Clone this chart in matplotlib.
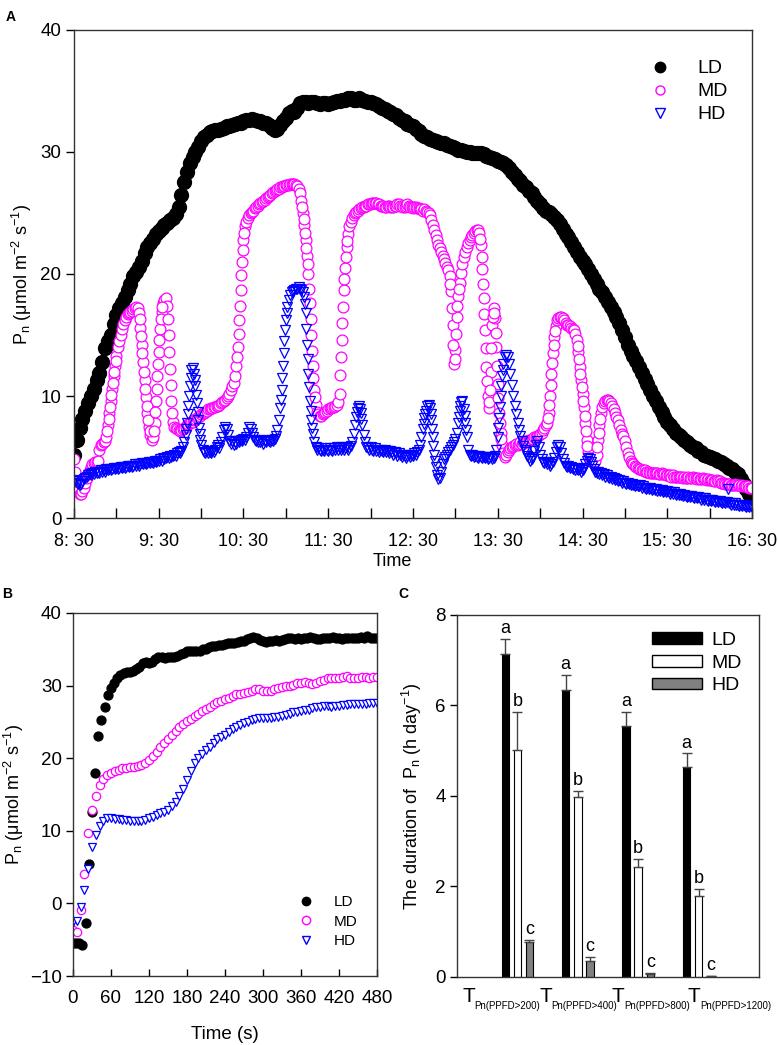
import numpy as np
import matplotlib
matplotlib.use('Agg')
import matplotlib.pyplot as plt
from matplotlib.lines import Line2D
from matplotlib.patches import Patch

plt.rcParams['font.family'] = ['Liberation Sans', 'DejaVu Sans']
plt.rcParams['axes.linewidth'] = 1.0
plt.rcParams['axes.edgecolor'] = '#333333'

# ---------------- panel A : diurnal Pn (minutes after 8:30) ----------------
ld_step_a = 2
md_step_a = 1
hd_step_a = 1

pn_ld_a = [
    5.2, 6.4, 7.4, 8.1, 8.8, 9.4, 10.0, 10.6, 11.3, 11.9,
    12.8, 13.9, 14.5, 15.0, 15.9, 16.6, 17.2, 17.6, 18.1, 18.7,
    19.2, 19.8, 20.2, 20.6, 21.1, 21.7, 22.2, 22.5, 22.9, 23.3,
    23.5, 23.8, 24.0, 24.2, 24.4, 24.6, 24.9, 25.5, 26.5, 27.5,
    28.4, 29.1, 29.6, 30.0, 30.4, 30.9, 31.2, 31.4, 31.6, 31.7,
    31.8, 31.8, 31.9, 32.0, 32.1, 32.1, 32.2, 32.3, 32.4, 32.4,
    32.5, 32.6, 32.6, 32.7, 32.6, 32.5, 32.5, 32.4, 32.4, 32.2,
    32.0, 31.8, 31.9, 32.2, 32.5, 32.8, 33.2, 33.4, 33.3, 33.6,
    34.0, 34.1, 34.1, 34.0, 34.1, 34.1, 34.0, 33.9, 34.0, 34.0,
    33.9, 34.0, 34.1, 34.2, 34.2, 34.3, 34.3, 34.4, 34.4, 34.3,
    34.3, 34.4, 34.3, 34.2, 34.1, 34.1, 34.0, 33.9, 33.8, 33.6,
    33.5, 33.4, 33.3, 33.1, 33.0, 32.8, 32.6, 32.5, 32.3, 32.2,
    32.1, 31.9, 31.7, 31.5, 31.3, 31.2, 31.1, 31.0, 30.9, 30.8,
    30.7, 30.7, 30.6, 30.5, 30.4, 30.3, 30.2, 30.2, 30.1, 30.0,
    30.0, 29.9, 29.9, 29.9, 29.9, 29.8, 29.7, 29.6, 29.5, 29.4,
    29.3, 29.2, 29.1, 28.9, 28.7, 28.4, 28.1, 27.8, 27.6, 27.3,
    27.1, 26.8, 26.6, 26.3, 26.0, 25.7, 25.4, 25.2, 25.1, 24.9,
    24.7, 24.4, 24.1, 23.7, 23.3, 23.0, 22.6, 22.2, 21.8, 21.4,
    21.1, 20.8, 20.4, 20.0, 19.6, 19.2, 18.8, 18.5, 18.1, 17.7,
    17.3, 16.9, 16.5, 16.0, 15.4, 14.8, 14.2, 13.7, 13.3, 12.9,
    12.4, 11.9, 11.4, 11.0, 10.5, 10.0, 9.6, 9.1, 8.7, 8.3,
    7.9, 7.6, 7.3, 7.0, 6.8, 6.6, 6.4, 6.2, 6.0, 5.8,
    5.7, 5.5, 5.4, 5.2, 5.1, 5.0, 4.9, 4.8, 4.7, 4.6,
    4.4, 4.3, 4.1, 4.0, 3.8, 3.6, 3.2, 2.8, 2.4, 2.0,
    1.7,
]

pn_md_a = [
    4.8, 3.8, 2.8, 2.2, 2.0, 2.0, 2.2, 2.5, 2.9, 3.3,
    3.6, 3.9, 4.2, 4.4, 4.5, 4.6, 4.6, 4.7, 5.6, 6.0,
    6.1, 6.2, 6.3, 6.6, 7.6, 8.6, 9.6, 10.6, 11.6, 12.5,
    13.3, 14.0, 14.5, 15.0, 15.5, 15.9, 16.2, 16.5, 16.7, 16.8,
    16.9, 17.0, 17.1, 17.2, 17.3, 17.2, 16.8, 15.6, 14.2, 12.8,
    11.3, 9.9, 8.6, 7.5, 6.8, 6.4, 6.6, 7.8, 9.6, 11.6,
    13.6, 15.5, 16.9, 17.6, 17.9, 18.0, 17.4, 15.0, 12.2, 9.6,
    7.9, 7.5, 7.4, 7.3, 7.2, 7.1, 7.2, 7.3, 7.4, 7.5,
    7.6, 7.7, 7.8, 7.9, 7.9, 8.0, 8.1, 8.2, 8.3, 8.4,
    8.5, 8.6, 8.6, 8.7, 8.8, 8.9, 8.9, 9.0, 9.0, 9.1,
    9.1, 9.2, 9.2, 9.3, 9.4, 9.5, 9.6, 9.7, 9.8, 10.0,
    10.2, 10.5, 10.8, 11.1, 11.6, 12.5, 14.0, 16.2, 18.7, 21.0,
    22.8, 23.9, 24.3, 24.6, 24.8, 25.0, 25.1, 25.2, 25.4, 25.5,
    25.6, 25.7, 25.8, 25.9, 26.0, 26.1, 26.2, 26.3, 26.4, 26.5,
    26.6, 26.7, 26.8, 26.9, 27.0, 27.0, 27.1, 27.1, 27.2, 27.2,
    27.3, 27.3, 27.3, 27.4, 27.4, 27.4, 27.4, 27.3, 27.2, 27.0,
    26.6, 26.0, 25.0, 24.0, 22.8, 21.5, 20.0, 17.6, 15.0, 12.5,
    10.5, 9.3, 8.7, 8.5, 8.4, 8.4, 8.5, 8.6, 8.7, 8.8,
    8.9, 9.0, 9.0, 9.1, 9.1, 9.2, 9.3, 9.5, 10.2, 13.2,
    16.0, 18.7, 20.5, 22.2, 23.3, 23.9, 24.3, 24.6, 24.8, 25.0,
    25.1, 25.2, 25.3, 25.4, 25.5, 25.5, 25.6, 25.6, 25.7, 25.7,
    25.7, 25.8, 25.8, 25.8, 25.8, 25.7, 25.7, 25.6, 25.6, 25.6,
    25.5, 25.5, 25.6, 25.6, 25.5, 25.5, 25.5, 25.6, 25.6, 25.7,
    25.7, 25.6, 25.6, 25.5, 25.5, 25.6, 25.7, 25.6, 25.5, 25.5,
    25.4, 25.5, 25.5, 25.4, 25.4, 25.3, 25.3, 25.2, 25.3, 25.2,
    25.1, 25.0, 24.8, 24.4, 24.0, 23.6, 23.2, 22.8, 22.4, 22.1,
    21.8, 21.5, 21.2, 20.9, 20.6, 20.3, 19.8, 18.6, 15.8, 12.6,
    13.8, 16.5, 18.2, 19.3, 20.1, 20.8, 21.4, 21.8, 22.2, 22.5,
    22.8, 23.0, 23.2, 23.4, 23.5, 23.6, 23.6, 23.4, 22.4, 20.4,
    18.0, 15.4, 12.4, 10.0, 9.0, 12.0, 15.8, 17.2, 16.4, 14.0,
    11.0, 8.6, 7.0, 6.0, 5.3, 5.0, 5.2, 5.4, 5.6, 5.7,
    5.8, 5.9, 6.0, 6.1, 6.0, 6.1, 6.2, 6.1, 6.2, 6.3,
    6.2, 6.3, 6.4, 6.4, 6.5, 6.5, 6.6, 6.6, 6.7, 6.8,
    6.9, 7.0, 7.2, 7.4, 7.6, 7.8, 8.6, 10.0, 11.8, 13.5,
    14.8, 15.7, 16.2, 16.4, 16.5, 16.5, 16.4, 16.2, 16.0, 15.8,
    15.8, 15.7, 15.6, 15.5, 15.4, 15.1, 14.6, 13.6, 12.4, 11.3,
    10.2, 9.1, 7.8, 6.4, 5.4, 4.9, 4.7, 4.6, 4.6, 4.7,
    5.2, 6.4, 7.6, 8.6, 9.1, 9.4, 9.6, 9.7, 9.7, 9.6,
    9.4, 9.2, 8.9, 8.6, 8.3, 8.0, 7.6, 7.2, 6.9, 6.7,
    6.3, 5.8, 5.3, 5.0, 4.7, 4.5, 4.4, 4.3, 4.2, 4.1,
    4.0, 4.0, 3.9, 3.9, 3.9, 3.8, 3.8, 3.8, 3.7, 3.7,
    3.7, 3.7, 3.7, 3.7, 3.6, 3.6, 3.7, 3.6, 3.6, 3.5,
    3.5, 3.5, 3.5, 3.4, 3.5, 3.4, 3.4, 3.4, 3.4, 3.4,
    3.4, 3.3, 3.4, 3.3, 3.3, 3.4, 3.3, 3.3, 3.4, 3.3,
    3.3, 3.2, 3.3, 3.2, 3.2, 3.3, 3.2, 3.2, 3.1, 3.2,
    3.1, 3.1, 3.1, 3.0, 3.0, 3.1, 3.0, 3.0, 2.9, 2.9,
    2.9, 2.8, 2.8, 2.8, 2.8, 2.7, 2.7, 2.7, 2.8, 2.7,
    2.7, 2.7, 2.6, 2.7, 2.6, 2.6, 2.6, 2.6, 2.5, 2.5,
    2.5,
]

# extra MD readings inside the steep columns (minute, value)
md_extra_t = [23.5, 24.5, 25.5, 26.5, 27.5, 28.5, 29.5,
              46.5, 47.5, 48.5, 49.5, 50.5, 51.5, 52.5, 53.5,
              56.5, 57.5, 58.5, 59.5, 60.5, 61.5, 62.5,
              66.5, 67.5, 68.5, 69.5,
              115.5, 116.5, 117.5, 118.5, 119.5, 120.5,
              161.5, 162.5, 163.5, 164.5, 165.5, 166.5, 167.5, 168.5, 169.5, 170.5,
              188.5, 189.5, 190.5, 191.5, 192.5, 193.5,
              266.5, 267.5, 268.5, 269.5, 270.5, 271.5, 272.5,
              287.5, 288.5, 289.5, 290.5, 291.5, 292.5, 293.5, 294.5, 295.5,
              296.5, 297.5, 298.5, 299.5, 300.5, 301.5, 302.5,
              335.5, 336.5, 337.5, 338.5, 339.5, 340.5,
              356.5, 357.5, 358.5, 359.5, 360.5, 361.5, 362.5, 363.5,
              370.5, 371.5, 372.5]
md_extra_v = [7.1, 8.1, 9.1, 10.1, 11.1, 12.0, 12.9,
              16.3, 14.9, 13.5, 12.0, 10.6, 9.2, 8.0, 7.1,
              7.1, 8.7, 10.6, 12.6, 14.6, 16.3, 17.3,
              16.3, 13.6, 10.9, 8.6,
              13.2, 15.1, 17.4, 19.9, 22.0, 23.4,
              25.5, 24.5, 23.4, 22.1, 20.8, 18.8, 16.3, 13.7, 11.5, 9.9,
              11.7, 14.6, 17.3, 19.6, 21.4, 22.7,
              19.2, 17.2, 14.2, 13.0, 15.1, 17.4, 18.8,
              22.9, 21.4, 19.2, 16.7, 13.9, 11.2, 9.5, 10.5, 13.9,
              16.5, 16.8, 15.2, 12.5, 9.8, 7.8, 6.5,
              8.2, 9.3, 10.9, 12.7, 14.2, 15.3,
              14.1, 13.0, 11.8, 10.7, 9.6, 8.4, 7.1, 5.9,
              5.8, 7.0, 8.1]

pn_hd_a = [
    3.1, 3.0, 2.9, 2.8, 2.7, 2.8, 3.0, 3.2, 3.3, 3.4,
    3.5, 3.6, 3.5, 3.7, 3.6, 3.8, 3.7, 3.8, 3.7, 3.9,
    3.8, 3.9, 3.8, 4.0, 3.9, 4.0, 3.9, 4.0, 4.1, 4.0,
    4.1, 4.0, 4.1, 4.2, 4.1, 4.2, 4.1, 4.2, 4.3, 4.2,
    4.3, 4.2, 4.3, 4.4, 4.3, 4.4, 4.3, 4.4, 4.5, 4.4,
    4.5, 4.4, 4.5, 4.6, 4.5, 4.6, 4.5, 4.7, 4.6, 4.7,
    4.7, 4.8, 4.7, 4.9, 4.8, 4.9, 5.0, 4.9, 5.1, 5.0,
    5.1, 5.2, 5.1, 5.3, 5.4, 5.3, 5.5, 5.8, 6.2, 6.8,
    7.8, 9.2, 10.8, 12.1, 12.3, 11.8, 10.8, 9.4, 8.0, 6.9,
    6.0, 5.6, 5.4, 5.3, 5.5, 5.3, 5.4, 5.3, 5.5, 5.4,
    5.6, 5.8, 6.0, 5.7, 6.2, 6.6, 7.2, 7.5, 7.3, 6.8,
    6.3, 6.1, 6.3, 6.0, 6.2, 6.1, 6.3, 6.2, 6.4, 6.3,
    6.5, 6.4, 6.6, 7.0, 7.5, 7.3, 7.0, 6.6, 6.4, 6.3,
    6.2, 6.4, 6.2, 6.3, 6.1, 6.3, 6.2, 6.4, 6.3, 6.2,
    6.4, 6.3, 6.5, 6.7, 7.2, 8.0, 9.0, 10.5, 12.5, 14.5,
    16.2, 17.3, 17.9, 18.3, 18.5, 18.6, 18.7, 18.8, 18.8, 18.9,
    18.8, 18.7, 18.5, 18.1, 16.8, 14.2, 11.8, 9.6, 8.0, 6.9,
    6.2, 5.8, 5.6, 5.7, 5.6, 5.5, 5.6, 5.5, 5.7, 5.6,
    5.5, 5.7, 5.6, 5.5, 5.7, 5.6, 5.8, 5.6, 5.7, 5.6,
    5.8, 5.6, 5.7, 5.8, 5.6, 5.7, 5.9, 6.2, 6.9, 7.6,
    8.3, 9.0, 9.2, 8.6, 7.6, 6.8, 6.2, 5.8, 5.7, 5.6,
    5.8, 5.6, 5.5, 5.7, 5.5, 5.6, 5.4, 5.6, 5.5, 5.4,
    5.6, 5.4, 5.5, 5.3, 5.5, 5.4, 5.2, 5.4, 5.3, 5.1,
    5.3, 5.2, 5.0, 5.2, 5.1, 4.9, 5.1, 5.2, 5.0, 5.2,
    5.1, 5.3, 5.2, 5.4, 5.6, 6.0, 6.6, 7.3, 8.2, 8.8,
    9.2, 9.3, 9.0, 8.0, 6.6, 5.2, 4.2, 3.5, 3.2, 3.3,
    3.8, 4.4, 4.8, 5.0, 5.2, 5.4, 5.6, 5.8, 6.0, 6.2,
    6.5, 7.0, 7.8, 8.8, 9.5, 9.6, 8.9, 7.8, 6.6, 5.6,
    5.2, 5.1, 5.2, 5.0, 5.1, 5.0, 4.9, 5.1, 5.0, 4.9,
    5.0, 4.9, 5.0, 4.8, 4.9, 5.0, 4.8, 4.9, 5.1, 5.6,
    6.6, 8.2, 10.0, 11.6, 12.6, 13.2, 13.4, 13.2, 12.6, 11.8,
    10.9, 10.0, 9.2, 8.5, 7.8, 7.2, 6.7, 6.3, 5.9, 5.6,
    5.4, 5.1, 4.9, 4.7, 4.8, 5.0, 5.5, 6.0, 6.3, 5.8,
    5.2, 4.8, 4.6, 4.5, 4.6, 4.4, 4.5, 4.3, 4.4, 4.6,
    4.9, 5.4, 5.8, 6.0, 5.8, 5.3, 4.8, 4.5, 4.3, 4.2,
    4.3, 4.1, 4.2, 4.0, 4.1, 3.9, 4.0, 3.9, 4.0, 3.8,
    3.9, 4.1, 4.4, 4.7, 4.9, 4.8, 4.6, 4.3, 4.0, 3.8,
    3.7, 3.8, 3.6, 3.7, 3.5, 3.6, 3.4, 3.5, 3.4, 3.3,
    3.4, 3.2, 3.3, 3.1, 3.2, 3.0, 3.1, 3.0, 2.9, 3.0,
    2.9, 2.8, 2.9, 2.8, 2.7, 2.8, 2.7, 2.6, 2.7, 2.6,
    2.6, 2.7, 2.5, 2.6, 2.5, 2.4, 2.5, 2.4, 2.5, 2.3,
    2.4, 2.3, 2.4, 2.2, 2.3, 2.2, 2.3, 2.1, 2.2, 2.1,
    2.2, 2.1, 2.0, 2.1, 2.0, 2.1, 1.9, 2.0, 1.9, 2.0,
    1.9, 1.8, 1.9, 1.8, 1.7, 1.8, 1.7, 1.8, 1.7, 1.6,
    1.7, 1.6, 1.7, 1.6, 1.5, 1.6, 1.5, 1.6, 1.5, 1.4,
    1.5, 1.4, 1.5, 1.4, 1.3, 1.4, 1.3, 1.4, 1.3, 1.2,
    1.3, 1.2, 1.3, 2.4, 1.2, 1.1, 1.2, 1.1, 1.2, 1.1,
    1.1, 1.0, 1.1, 1.0, 1.1, 1.0, 0.9, 1.0, 0.9, 1.0,
    0.9,
]

# extra HD readings inside the peaks (minute, value)
hd_extra_t = [79.5, 80.5, 81.5, 82.5, 85.5, 86.5, 87.5, 88.5, 89.5,
              146.5, 147.5, 148.5, 149.5, 150.5, 163.5, 164.5, 165.5, 166.5, 167.5, 168.5,
              200.5, 202.5, 203.5,
              247.5, 248.5, 252.5, 253.5, 254.5, 255.5,
              272.5, 273.5, 276.5, 277.5,
              300.5, 301.5, 302.5, 303.5]
hd_extra_v = [7.3, 8.5, 10.0, 11.5, 11.3, 10.1, 8.7, 7.4, 6.4,
              9.7, 11.5, 13.5, 15.4, 16.8, 17.5, 15.5, 13.0, 10.7, 8.8, 7.4,
              8.7, 8.9, 8.1,
              7.7, 8.5, 8.5, 7.3, 5.9, 4.7,
              8.3, 9.2, 8.4, 7.2,
              7.4, 9.1, 10.8, 12.1]

hour_ticks = [0, 60, 120, 180, 240, 300, 360, 420, 480]
hour_labels = ['8: 30', '9: 30', '10: 30', '11: 30', '12: 30',
               '13: 30', '14: 30', '15: 30', '16: 30']
half_hour_ticks = [30, 90, 150, 210, 270, 330, 390, 450]

# ---------------- panel B : light induction ----------------
ld_step_b = 5
md_step_b = 6
hd_step_b = 6

pn_ld_b = [
    -5.5, -5.4, -5.5, -5.7, -2.7, 5.4, 12.6, 18.0, 23.0, 25.3,
    27.1, 28.7, 29.7, 30.4, 31.0, 31.5, 31.8, 31.9, 31.9, 32.0,
    32.3, 32.6, 33.1, 33.3, 33.1, 33.3, 33.6, 34.0, 33.9, 33.8,
    33.9, 34.0, 34.0, 34.1, 34.3, 34.5, 34.7, 34.8, 34.8, 34.8,
    34.8, 35.0, 35.1, 35.3, 35.4, 35.5, 35.6, 35.6, 35.7, 35.8,
    35.8, 35.9, 36.0, 36.1, 36.2, 36.4, 36.6, 36.7, 36.5, 36.3,
    36.1, 36.0, 36.1, 36.2, 36.3, 36.2, 36.3, 36.4, 36.6, 36.5,
    36.4, 36.5, 36.4, 36.5, 36.6, 36.7, 36.5, 36.4, 36.4, 36.5,
    36.6, 36.5, 36.7, 36.6, 36.5, 36.4, 36.5, 36.6, 36.5, 36.5,
    36.6, 36.7, 36.6, 36.8, 36.6, 36.5, 36.5,
]

pn_md_b = [
    -3.7, -3.9, -0.9, 4.1, 9.7, 12.9, 14.8, 16.3, 17.2, 17.7,
    18.0, 18.2, 18.4, 18.6, 18.7, 18.8, 18.8, 18.9, 19.1, 19.4,
    19.8, 20.3, 20.9, 21.6, 22.1, 22.7, 23.2, 23.8, 24.3, 24.7,
    25.1, 25.4, 25.8, 26.1, 26.5, 26.8, 27.1, 27.4, 27.7, 27.9,
    28.1, 28.3, 28.5, 28.8, 28.9, 29.0, 29.1, 29.3, 29.6, 29.5,
    29.3, 29.2, 29.3, 29.5, 29.7, 29.8, 29.9, 30.0, 30.1, 30.3,
    30.4, 30.5, 30.4, 30.2, 30.4, 30.6, 30.8, 31.0, 31.1, 31.0,
    31.0, 31.2, 31.3, 31.1, 31.0, 31.1, 31.2, 31.2, 31.1, 31.2,
    31.2,
]

pn_hd_b = [
    -2.6, -2.4, -0.5, 1.8, 4.8, 7.8, 9.4, 10.6, 11.4, 11.7,
    11.7, 11.6, 11.6, 11.5, 11.5, 11.4, 11.4, 11.3, 11.4, 11.5,
    11.7, 11.9, 12.2, 12.4, 12.6, 12.9, 13.4, 14.0, 14.8, 15.8,
    17.0, 18.2, 19.3, 20.0, 20.6, 21.1, 21.6, 22.1, 22.6, 22.9,
    23.2, 23.6, 24.0, 24.3, 24.6, 24.8, 25.0, 25.2, 25.4, 25.5,
    25.6, 25.6, 25.6, 25.7, 25.7, 25.8, 25.9, 26.1, 26.3, 26.4,
    26.5, 26.6, 26.7, 26.9, 27.0, 27.1, 27.2, 27.2, 27.1, 27.2,
    27.2, 27.3, 27.3, 27.4, 27.4, 27.5, 27.5, 27.5, 27.6, 27.6,
    27.6,
]

# ---------------- panel C : duration of Pn ----------------
threshold_subs = ['Pn(PPFD>200)', 'Pn(PPFD>400)', 'Pn(PPFD>800)', 'Pn(PPFD>1200)']
dur_ld = [7.14, 6.34, 5.54, 4.63]
dur_md = [5.01, 3.98, 2.44, 1.79]
dur_hd = [0.77, 0.36, 0.07, 0.02]
err_ld = [0.33, 0.33, 0.31, 0.31]
err_md = [0.85, 0.13, 0.17, 0.16]
err_hd = [0.05, 0.09, 0.02, 0.01]
sig_ld = ['a', 'a', 'a', 'a']
sig_md = ['b', 'b', 'b', 'b']
sig_hd = ['c', 'c', 'c', 'c']

C_MD = '#ff00ff'
C_HD = '#0000ff'
pn_label = 'P$_\\mathregular{n}$ (\u03bcmol m$^\\mathregular{-2}$ s$^\\mathregular{-1}$)'

fig = plt.figure(figsize=(7.78, 10.45), dpi=100)

# ---- A ----
ax_a = fig.add_axes([0.0951, 0.5043, 0.8715, 0.4670])
t_ld = np.arange(len(pn_ld_a)) * ld_step_a
t_md = np.arange(len(pn_md_a)) * md_step_a
t_hd = np.arange(len(pn_hd_a)) * hd_step_a
ax_a.plot(t_ld, pn_ld_a, ls='none', marker='o', ms=10, mfc='black', mec='black')
md_style = dict(ls='none', marker='o', ms=7.8, mfc='white', mec=C_MD, mew=0.9)
ax_a.plot(t_md, pn_md_a, **md_style)
ax_a.plot(md_extra_t, md_extra_v, **md_style)
hd_style = dict(ls='none', marker='v', ms=7.2, mfc='none', mec=C_HD, mew=0.9)
ax_a.plot(t_hd, pn_hd_a, **hd_style)
ax_a.plot(hd_extra_t, hd_extra_v, **hd_style)
ax_a.set_xlim(0, 480)
ax_a.set_ylim(0, 40)
ax_a.set_xticks(hour_ticks)
ax_a.set_xticklabels(hour_labels)
ax_a.set_xticks(half_hour_ticks, minor=True)
ax_a.set_yticks([0, 10, 20, 30, 40])
ax_a.tick_params(axis='x', which='both', direction='in', length=7, width=1, pad=11, labelsize=13)
ax_a.tick_params(axis='y', direction='out', length=6, width=1, pad=3, labelsize=13.5)
ax_a.set_xlabel('Time', fontsize=13, labelpad=2, x=0.47)
ax_a.set_ylabel(pn_label, fontsize=13, labelpad=5)
leg_a = [Line2D([], [], ls='none', marker='o', ms=7.5, mfc='black', mec='black'),
         Line2D([], [], ls='none', marker='o', ms=6.5, mfc='white', mec=C_MD),
         Line2D([], [], ls='none', marker='v', ms=6.5, mfc='white', mec=C_HD)]
ax_a.legend(leg_a, ['LD', 'MD', 'HD'], loc='upper right', bbox_to_anchor=(0.975, 0.955),
            frameon=False, fontsize=14, handletextpad=1.3, labelspacing=0.28,
            handlelength=1.2, borderaxespad=0)

# ---- B ----
ax_b = fig.add_axes([0.0938, 0.0660, 0.3907, 0.3474])
tb_ld = np.arange(len(pn_ld_b)) * ld_step_b
tb_md = np.arange(len(pn_md_b)) * md_step_b
tb_hd = np.arange(len(pn_hd_b)) * hd_step_b
ax_b.plot(tb_ld, pn_ld_b, ls='none', marker='o', ms=6.4, mfc='black', mec='black')
ax_b.plot(tb_md, pn_md_b, ls='none', marker='o', ms=6.0, mfc='white', mec=C_MD, mew=0.9)
ax_b.plot(tb_hd, pn_hd_b, ls='none', marker='v', ms=5.6, mfc='white', mec=C_HD, mew=0.9)
ax_b.set_xlim(0, 480)
ax_b.set_ylim(-10, 40)
ax_b.set_xticks(range(0, 481, 60))
ax_b.set_yticks(range(-10, 41, 10))
ax_b.tick_params(axis='x', direction='in', length=5, width=1, pad=10, labelsize=13.5)
ax_b.tick_params(axis='y', direction='out', length=5, width=1, pad=3, labelsize=13.5)
ax_b.set_xlabel('Time (s)', fontsize=13.5, labelpad=14)
ax_b.set_ylabel(pn_label, fontsize=13, labelpad=3)
leg_b = [Line2D([], [], ls='none', marker='o', ms=6.0, mfc='black', mec='black'),
         Line2D([], [], ls='none', marker='o', ms=6.0, mfc='white', mec=C_MD),
         Line2D([], [], ls='none', marker='v', ms=6.0, mfc='white', mec=C_HD)]
ax_b.legend(leg_b, ['LD', 'MD', 'HD'], loc='lower right', bbox_to_anchor=(0.955, 0.06),
            frameon=False, fontsize=11, handletextpad=1.2, labelspacing=0.35,
            handlelength=1.2, borderaxespad=0)

# ---- C ----
ax_c = fig.add_axes([0.5874, 0.0651, 0.3882, 0.3464])
x = np.arange(1, len(threshold_subs) + 1)
off = 0.2
w = 0.125
ax_c.bar(x - off, dur_ld, w, color='black', edgecolor='black', lw=0.8, zorder=2)
ax_c.bar(x, dur_md, w, color='white', edgecolor='black', lw=0.8, zorder=2)
ax_c.bar(x + off, dur_hd, w, color='#808080', edgecolor='black', lw=0.8, zorder=2)
for xs, vals, errs, sigs in [(x - off, dur_ld, err_ld, sig_ld),
                             (x, dur_md, err_md, sig_md),
                             (x + off, dur_hd, err_hd, sig_hd)]:
    ax_c.errorbar(xs, vals, yerr=[np.zeros(len(vals)), errs], fmt='none',
                  ecolor='#444444', elinewidth=1.0, capsize=3.5, capthick=1.0, zorder=3)
    for xi, v, e, s in zip(xs, vals, errs, sigs):
        ax_c.text(xi, v + e + 0.04, s, ha='center', va='bottom', fontsize=13)
ax_c.set_xlim(0, 5)
ax_c.set_ylim(0, 8)
ax_c.set_yticks([0, 2, 4, 6, 8])
label_x = [0.083, 1.358, 2.566, 3.824]
ax_c.set_xticks(label_x)
ax_c.set_xticklabels(['T'] * len(label_x), ha='left')
ax_c.tick_params(axis='x', length=0, pad=7, labelsize=15)
for lx, sub in zip(label_x, threshold_subs):
    ax_c.annotate(sub, xy=(lx, 0), xycoords=('data', 'axes fraction'),
                  xytext=(8.6, -23), textcoords='offset points',
                  fontsize=7.0, ha='left', va='baseline')
ax_c.tick_params(axis='y', direction='out', length=5, width=1, pad=3, labelsize=13.5)
ax_c.set_ylabel('The duration of  P$_\\mathregular{n}$ (h day$^\\mathregular{-1}$)',
                fontsize=13, labelpad=8)
leg_c = [Patch(facecolor='black', edgecolor='black'),
         Patch(facecolor='white', edgecolor='black'),
         Patch(facecolor='#808080', edgecolor='black')]
ax_c.legend(leg_c, ['LD', 'MD', 'HD'], loc='upper right', bbox_to_anchor=(0.97, 0.975),
            frameon=False, fontsize=14, handlelength=2.6, handleheight=0.55,
            handletextpad=0.5, labelspacing=0.3, borderaxespad=0)

fig.text(0.007, 0.99, 'A', fontsize=10, fontweight='bold', va='top')
fig.text(0.003, 0.438, 'B', fontsize=10, fontweight='bold', va='top')
fig.text(0.512, 0.438, 'C', fontsize=10, fontweight='bold', va='top')

fig.savefig('out.png', dpi=100)
